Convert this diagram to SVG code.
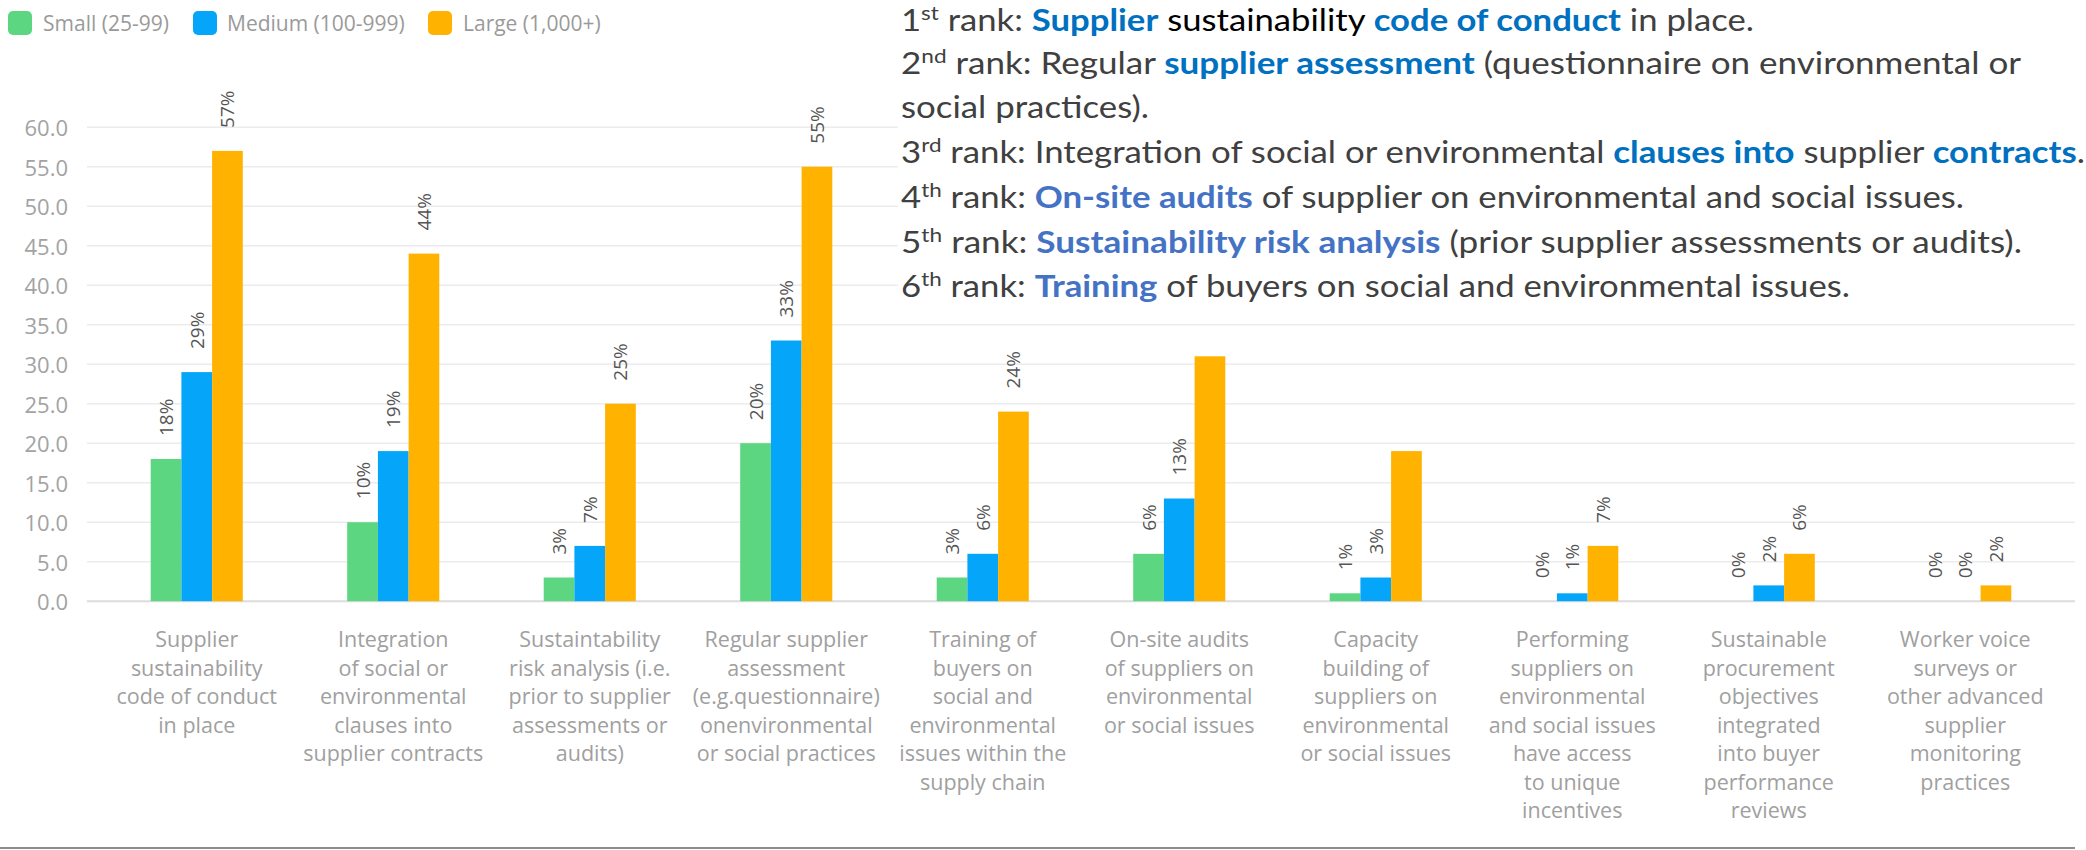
<svg xmlns="http://www.w3.org/2000/svg" width="2086" height="850" viewBox="0 0 2086 850">
<style>
.grid{stroke:#ececec;stroke-width:1.5}
.zero{stroke:#dcdcdc;stroke-width:2}
.ylab{font-family:"Open Sans","Liberation Sans",sans-serif;font-size:22px;fill:#a3a3a3;text-anchor:end;dominant-baseline:central}
.leg{font-family:"Open Sans","Liberation Sans",sans-serif;font-size:21px;fill:#9a9a9a}
.s{fill:#5cd681}.m{fill:#05a6fa}.l{fill:#ffb300}
.val{font-family:"Open Sans","Liberation Sans",sans-serif;font-size:19px;fill:#555;dominant-baseline:central}
.cat{font-family:"Open Sans","Liberation Sans",sans-serif;font-size:21.5px;fill:#a0a0a0;text-anchor:middle}
.rk{font-family:Lato,"Liberation Sans",sans-serif;font-size:31px;fill:#404040}
.b1{font-weight:bold;fill:#0070c0}
.b2{font-weight:bold;fill:#4472c4}
</style>
<rect width="2086" height="850" fill="#fff"/>
<g id="legend">
<rect x="8" y="11" width="24" height="24" rx="5" class="s"/>
<text x="43" y="31" class="leg">Small (25-99)</text>
<rect x="193" y="11" width="24" height="24" rx="5" class="m"/>
<text x="227" y="31" class="leg">Medium (100-999)</text>
<rect x="428" y="11" width="24" height="24" rx="5" class="l"/>
<text x="463" y="31" class="leg">Large (1,000+)</text>
</g>
<g id="grid">
<line x1="87" x2="2075" y1="127.2" y2="127.2" class="grid"/>
<line x1="87" x2="2075" y1="166.7" y2="166.7" class="grid"/>
<line x1="87" x2="2075" y1="206.2" y2="206.2" class="grid"/>
<line x1="87" x2="2075" y1="245.7" y2="245.7" class="grid"/>
<line x1="87" x2="2075" y1="285.2" y2="285.2" class="grid"/>
<line x1="87" x2="2075" y1="324.7" y2="324.7" class="grid"/>
<line x1="87" x2="2075" y1="364.2" y2="364.2" class="grid"/>
<line x1="87" x2="2075" y1="403.7" y2="403.7" class="grid"/>
<line x1="87" x2="2075" y1="443.2" y2="443.2" class="grid"/>
<line x1="87" x2="2075" y1="482.7" y2="482.7" class="grid"/>
<line x1="87" x2="2075" y1="522.2" y2="522.2" class="grid"/>
<line x1="87" x2="2075" y1="561.7" y2="561.7" class="grid"/>
<line x1="87" x2="2075" y1="601.2" y2="601.2" class="zero"/>
</g>
<g id="yaxis">
<text x="68" y="127.2" class="ylab">60.0</text>
<text x="68" y="166.7" class="ylab">55.0</text>
<text x="68" y="206.2" class="ylab">50.0</text>
<text x="68" y="245.7" class="ylab">45.0</text>
<text x="68" y="285.2" class="ylab">40.0</text>
<text x="68" y="324.7" class="ylab">35.0</text>
<text x="68" y="364.2" class="ylab">30.0</text>
<text x="68" y="403.7" class="ylab">25.0</text>
<text x="68" y="443.2" class="ylab">20.0</text>
<text x="68" y="482.7" class="ylab">15.0</text>
<text x="68" y="522.2" class="ylab">10.0</text>
<text x="68" y="561.7" class="ylab">5.0</text>
<text x="68" y="601.2" class="ylab">0.0</text>
</g>
<g id="g1">
<rect x="150.7" y="459.0" width="30.7" height="142.2" class="s"/>
<rect x="181.4" y="372.1" width="30.7" height="229.1" class="m"/>
<rect x="212.1" y="150.9" width="30.7" height="450.3" class="l"/>
<text class="val" transform="translate(166.05,436.0) rotate(-90)">18%</text>
<text class="val" transform="translate(196.75,349.1) rotate(-90)">29%</text>
<text class="val" transform="translate(227.45,127.9) rotate(-90)">57%</text>
<text class="cat" x="196.75" y="647"><tspan x="196.75">Supplier</tspan><tspan x="196.75" dy="28.5">sustainability</tspan><tspan x="196.75" dy="28.5">code of conduct</tspan><tspan x="196.75" dy="28.5">in place</tspan></text>
</g>
<g id="g2">
<rect x="347.2" y="522.2" width="30.7" height="79" class="s"/>
<rect x="377.9" y="451.1" width="30.7" height="150.1" class="m"/>
<rect x="408.6" y="253.6" width="30.7" height="347.6" class="l"/>
<text class="val" transform="translate(362.55,499.2) rotate(-90)">10%</text>
<text class="val" transform="translate(393.25,428.1) rotate(-90)">19%</text>
<text class="val" transform="translate(423.95,230.6) rotate(-90)">44%</text>
<text class="cat" x="393.25" y="647"><tspan x="393.25">Integration</tspan><tspan x="393.25" dy="28.5">of social or</tspan><tspan x="393.25" dy="28.5">environmental</tspan><tspan x="393.25" dy="28.5">clauses into</tspan><tspan x="393.25" dy="28.5">supplier contracts</tspan></text>
</g>
<g id="g3">
<rect x="543.7" y="577.5" width="30.7" height="23.7" class="s"/>
<rect x="574.4" y="545.9" width="30.7" height="55.3" class="m"/>
<rect x="605.1" y="403.7" width="30.7" height="197.5" class="l"/>
<text class="val" transform="translate(559.05,554.5) rotate(-90)">3%</text>
<text class="val" transform="translate(589.75,522.9) rotate(-90)">7%</text>
<text class="val" transform="translate(620.45,380.7) rotate(-90)">25%</text>
<text class="cat" x="589.75" y="647"><tspan x="589.75">Sustaintability</tspan><tspan x="589.75" dy="28.5">risk analysis (i.e.</tspan><tspan x="589.75" dy="28.5">prior to supplier</tspan><tspan x="589.75" dy="28.5">assessments or</tspan><tspan x="589.75" dy="28.5">audits)</tspan></text>
</g>
<g id="g4">
<rect x="740.2" y="443.2" width="30.7" height="158" class="s"/>
<rect x="770.9" y="340.5" width="30.7" height="260.7" class="m"/>
<rect x="801.6" y="166.7" width="30.7" height="434.5" class="l"/>
<text class="val" transform="translate(755.55,420.2) rotate(-90)">20%</text>
<text class="val" transform="translate(786.25,317.5) rotate(-90)">33%</text>
<text class="val" transform="translate(816.95,143.7) rotate(-90)">55%</text>
<text class="cat" x="786.25" y="647"><tspan x="786.25">Regular supplier</tspan><tspan x="786.25" dy="28.5">assessment</tspan><tspan x="786.25" dy="28.5">(e.g.questionnaire)</tspan><tspan x="786.25" dy="28.5">onenvironmental</tspan><tspan x="786.25" dy="28.5">or social practices</tspan></text>
</g>
<g id="g5">
<rect x="936.7" y="577.5" width="30.7" height="23.7" class="s"/>
<rect x="967.4" y="553.8" width="30.7" height="47.4" class="m"/>
<rect x="998.1" y="411.6" width="30.7" height="189.6" class="l"/>
<text class="val" transform="translate(952.05,554.5) rotate(-90)">3%</text>
<text class="val" transform="translate(982.75,530.8) rotate(-90)">6%</text>
<text class="val" transform="translate(1013.45,388.6) rotate(-90)">24%</text>
<text class="cat" x="982.75" y="647"><tspan x="982.75">Training of</tspan><tspan x="982.75" dy="28.5">buyers on</tspan><tspan x="982.75" dy="28.5">social and</tspan><tspan x="982.75" dy="28.5">environmental</tspan><tspan x="982.75" dy="28.5">issues within the</tspan><tspan x="982.75" dy="28.5">supply chain</tspan></text>
</g>
<g id="g6">
<rect x="1133.2" y="553.8" width="30.7" height="47.4" class="s"/>
<rect x="1163.9" y="498.5" width="30.7" height="102.7" class="m"/>
<rect x="1194.6" y="356.3" width="30.7" height="244.9" class="l"/>
<text class="val" transform="translate(1148.55,530.8) rotate(-90)">6%</text>
<text class="val" transform="translate(1179.25,475.5) rotate(-90)">13%</text>
<text class="cat" x="1179.25" y="647"><tspan x="1179.25">On-site audits</tspan><tspan x="1179.25" dy="28.5">of suppliers on</tspan><tspan x="1179.25" dy="28.5">environmental</tspan><tspan x="1179.25" dy="28.5">or social issues</tspan></text>
</g>
<g id="g7">
<rect x="1329.7" y="593.3" width="30.7" height="7.9" class="s"/>
<rect x="1360.4" y="577.5" width="30.7" height="23.7" class="m"/>
<rect x="1391.1" y="451.1" width="30.7" height="150.1" class="l"/>
<text class="val" transform="translate(1345.05,570.3) rotate(-90)">1%</text>
<text class="val" transform="translate(1375.75,554.5) rotate(-90)">3%</text>
<text class="cat" x="1375.75" y="647"><tspan x="1375.75">Capacity</tspan><tspan x="1375.75" dy="28.5">building of</tspan><tspan x="1375.75" dy="28.5">suppliers on</tspan><tspan x="1375.75" dy="28.5">environmental</tspan><tspan x="1375.75" dy="28.5">or social issues</tspan></text>
</g>
<g id="g8">
<rect x="1556.9" y="593.3" width="30.7" height="7.9" class="m"/>
<rect x="1587.6" y="545.9" width="30.7" height="55.3" class="l"/>
<text class="val" transform="translate(1541.55,578.2) rotate(-90)">0%</text>
<text class="val" transform="translate(1572.25,570.3) rotate(-90)">1%</text>
<text class="val" transform="translate(1602.95,522.9) rotate(-90)">7%</text>
<text class="cat" x="1572.25" y="647"><tspan x="1572.25">Performing</tspan><tspan x="1572.25" dy="28.5">suppliers on</tspan><tspan x="1572.25" dy="28.5">environmental</tspan><tspan x="1572.25" dy="28.5">and social issues</tspan><tspan x="1572.25" dy="28.5">have access</tspan><tspan x="1572.25" dy="28.5">to unique</tspan><tspan x="1572.25" dy="28.5">incentives</tspan></text>
</g>
<g id="g9">
<rect x="1753.4" y="585.4" width="30.7" height="15.8" class="m"/>
<rect x="1784.1" y="553.8" width="30.7" height="47.4" class="l"/>
<text class="val" transform="translate(1738.05,578.2) rotate(-90)">0%</text>
<text class="val" transform="translate(1768.75,562.4) rotate(-90)">2%</text>
<text class="val" transform="translate(1799.45,530.8) rotate(-90)">6%</text>
<text class="cat" x="1768.75" y="647"><tspan x="1768.75">Sustainable</tspan><tspan x="1768.75" dy="28.5">procurement</tspan><tspan x="1768.75" dy="28.5">objectives</tspan><tspan x="1768.75" dy="28.5">integrated</tspan><tspan x="1768.75" dy="28.5">into buyer</tspan><tspan x="1768.75" dy="28.5">performance</tspan><tspan x="1768.75" dy="28.5">reviews</tspan></text>
</g>
<g id="g10">
<rect x="1980.6" y="585.4" width="30.7" height="15.8" class="l"/>
<text class="val" transform="translate(1934.55,578.2) rotate(-90)">0%</text>
<text class="val" transform="translate(1965.25,578.2) rotate(-90)">0%</text>
<text class="val" transform="translate(1995.95,562.4) rotate(-90)">2%</text>
<text class="cat" x="1965.25" y="647"><tspan x="1965.25">Worker voice</tspan><tspan x="1965.25" dy="28.5">surveys or</tspan><tspan x="1965.25" dy="28.5">other advanced</tspan><tspan x="1965.25" dy="28.5">supplier</tspan><tspan x="1965.25" dy="28.5">monitoring</tspan><tspan x="1965.25" dy="28.5">practices</tspan></text>
</g>
<line x1="0" x2="2075" y1="848" y2="848" stroke="#8c8c8c" stroke-width="2"/>
<g id="ranking">
<rect x="898" y="0" width="1188" height="312" fill="#fff"/>
<text class="rk" x="901" y="31" textLength="853" lengthAdjust="spacingAndGlyphs">1<tspan font-size="20" dy="-11">st</tspan><tspan dy="11"> rank: </tspan><tspan class="b1">Supplier</tspan><tspan fill="#000"> sustainability </tspan><tspan class="b1">code of conduct</tspan> in place.</text>
<text class="rk" x="901" y="73.5" textLength="1120" lengthAdjust="spacingAndGlyphs">2<tspan font-size="20" dy="-11">nd</tspan><tspan dy="11"> rank: Regular </tspan><tspan class="b1">supplier assessment</tspan> (questionnaire on environmental or</text>
<text class="rk" x="901" y="117.5" textLength="248" lengthAdjust="spacingAndGlyphs">social practices).</text>
<text class="rk" x="901" y="162.7" textLength="1184" lengthAdjust="spacingAndGlyphs">3<tspan font-size="20" dy="-11">rd</tspan><tspan dy="11"> rank: Integration of social or environmental </tspan><tspan class="b1">clauses into</tspan> supplier <tspan class="b1">contracts</tspan>.</text>
<text class="rk" x="901" y="208" textLength="1063" lengthAdjust="spacingAndGlyphs">4<tspan font-size="20" dy="-11">th</tspan><tspan dy="11"> rank: </tspan><tspan class="b2">On-site audits</tspan> of supplier on environmental and social issues.</text>
<text class="rk" x="901" y="253" textLength="1121" lengthAdjust="spacingAndGlyphs">5<tspan font-size="20" dy="-11">th</tspan><tspan dy="11"> rank: </tspan><tspan class="b2">Sustainability risk analysis</tspan> (prior supplier assessments or audits).</text>
<text class="rk" x="901" y="297" textLength="949" lengthAdjust="spacingAndGlyphs">6<tspan font-size="20" dy="-11">th</tspan><tspan dy="11"> rank: </tspan><tspan class="b2">Training</tspan> of buyers on social and environmental issues.</text>
</g>
</svg>
